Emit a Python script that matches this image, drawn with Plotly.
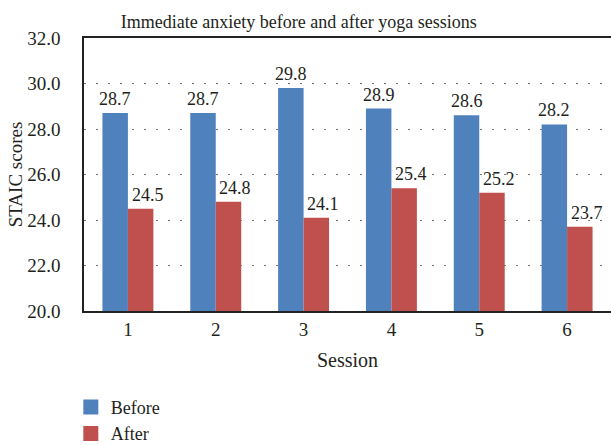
import plotly.graph_objects as go

sessions = ["1", "2", "3", "4", "5", "6"]
before = [28.7, 28.7, 29.8, 28.9, 28.6, 28.2]
after = [24.5, 24.8, 24.1, 25.4, 25.2, 23.7]
series_names = ["Before", "After"]
colors = ["#4F81BD", "#C0504D"]
y_ticks = [20, 22, 24, 26, 28, 30, 32]
y_tick_text = [f"{v:.1f}" for v in y_ticks]

FONT = "Liberation Serif"
TXT = "#231F20"
BARGAP = 0.42
label_xshift = [0, 7]  # value labels of the "After" series sit slightly right

fig = go.Figure()
for name, vals, col in zip(series_names, [before, after], colors):
    fig.add_trace(go.Bar(
        x=sessions, y=vals, name=name, marker_color=col, marker_line_width=0,
        showlegend=False,
    ))
# value labels above the bars
half = (1 - BARGAP) / 2
for k, (vals, xs) in enumerate(zip([before, after], label_xshift)):
    off = (k - 0.5) * half
    for i, v in enumerate(vals):
        fig.add_annotation(
            x=i + off, y=v, xref="x", yref="y", text=f"{v:.1f}",
            showarrow=False, yanchor="bottom", xanchor="center",
            xshift=xs, yshift=2,
            font=dict(family=FONT, size=18, color=TXT),
        )
# legend entries (square swatches)
for name, col in zip(series_names, colors):
    fig.add_trace(go.Scatter(
        x=[None], y=[None], mode="markers", name=name,
        marker=dict(symbol="square", size=15, color=col),
    ))

fig.update_layout(
    width=611, height=445,
    margin=dict(l=84, r=0, t=38, b=134, autoexpand=False),
    paper_bgcolor="white", plot_bgcolor="white",
    barmode="group", bargap=BARGAP, bargroupgap=0,
    font=dict(family=FONT, color=TXT, size=18),
    title=dict(text="Immediate anxiety before and after yoga sessions",
               x=0.489, xanchor="center", y=0.9506, yanchor="middle",
               font=dict(family=FONT, size=18, color=TXT)),
    legend=dict(x=-0.025, y=-0.285, xanchor="left", yanchor="top",
                orientation="v", font=dict(family=FONT, size=18, color=TXT),
                bgcolor="rgba(0,0,0,0)", tracegroupgap=0),
)
fig.update_xaxes(
    type="category", automargin=False,
    showline=True, linecolor="#222", linewidth=1.5, mirror=True,
    ticks="", tickfont=dict(family=FONT, size=19, color=TXT),
    ticklabelstandoff=0,
    title=dict(text="Session", font=dict(family=FONT, size=20, color=TXT), standoff=14),
    showgrid=False,
)
fig.update_yaxes(
    automargin=False,
    range=[20, 32], tickvals=y_ticks, ticktext=y_tick_text,
    showline=True, linecolor="#222", linewidth=1.5,
    ticks="", tickfont=dict(family=FONT, size=19, color=TXT),
    ticklabelstandoff=18,
    title=dict(text="STAIC scores", font=dict(family=FONT, size=19, color=TXT), standoff=0),
    showgrid=True, gridcolor="#777", griddash="1.5px,10.5px", gridwidth=1.2,
    zeroline=False,
)
fig.write_html("out.html", config={"displayModeBar": False},
               post_script="document.body.style.margin='0';")
